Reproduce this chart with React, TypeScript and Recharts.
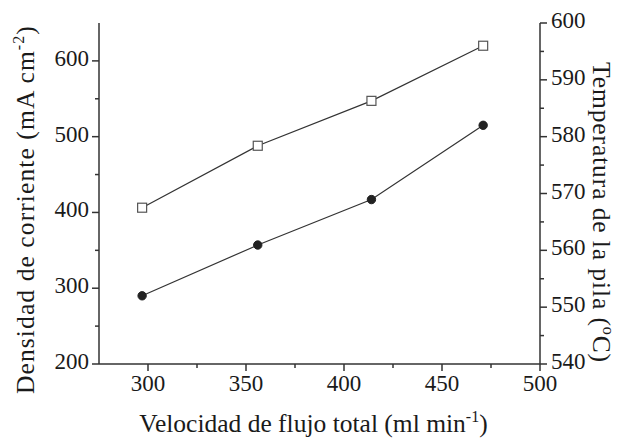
import React from 'react';
import { LineChart, Line, XAxis, YAxis } from 'recharts';

const flowRates = [297, 356, 414, 471];
const currentDensity = [290, 357, 417, 515];
const stackTemperature = [567.5, 578.4, 586.3, 596.0];

const xMajorTicks = [300, 350, 400, 450, 500];
const xMinorTicks = [325, 375, 425, 475];
const leftMajorTicks = [200, 300, 400, 500, 600];
const leftMinorTicks = [250, 350, 450, 550];
const rightMajorTicks = [540, 550, 560, 570, 580, 590, 600];
const rightMinorTicks = [545, 555, 565, 575, 585, 595];

const data = flowRates.map((f, i) => ({
  flow: f,
  density: currentDensity[i],
  temp: stackTemperature[i],
}));

const FONT = "'Liberation Serif', 'DejaVu Serif', serif";
const TEXT = '#1a1a1a';
const AXIS = '#333';
const TICK_FS = 23;
const LABEL_FS = 25.5;
const SUP_FS = 16;
const MAJOR = 7;
const MINOR = 4;

const sorted = (a: number[], b: number[]) => [...a, ...b].sort((p, q) => p - q);

const BottomTick = (props: any) => {
  const { x, y, payload } = props;
  const major = xMajorTicks.includes(payload.value);
  return (
    <g>
      <line x1={x} x2={x} y1={y} y2={y + (major ? MAJOR : MINOR)} stroke={AXIS} strokeWidth={1.5} />
      {major && (
        <text x={x} y={y + 27} textAnchor="middle" fontFamily={FONT} fontSize={TICK_FS} fill={TEXT}>
          {payload.value}
        </text>
      )}
    </g>
  );
};

const TopTick = (props: any) => {
  const { x, y, payload } = props;
  const major = xMajorTicks.includes(payload.value);
  return <line x1={x} x2={x} y1={y} y2={y + (major ? MAJOR : MINOR)} stroke={AXIS} strokeWidth={1.5} />;
};

const LeftTick = (props: any) => {
  const { x, y, payload } = props;
  const major = leftMajorTicks.includes(payload.value);
  return (
    <g>
      <line x1={x - (major ? MAJOR : MINOR)} x2={x} y1={y} y2={y} stroke={AXIS} strokeWidth={1.5} />
      {major && (
        <text x={x - 10} y={y + 5} textAnchor="end" fontFamily={FONT} fontSize={TICK_FS} fill={TEXT}>
          {payload.value}
        </text>
      )}
    </g>
  );
};

const RightTick = (props: any) => {
  const { x, y, payload } = props;
  const major = rightMajorTicks.includes(payload.value);
  return (
    <g>
      <line x1={x} x2={x + (major ? MAJOR : MINOR)} y1={y} y2={y} stroke={AXIS} strokeWidth={1.5} />
      {major && (
        <text x={x + 11} y={y + 5} textAnchor="start" fontFamily={FONT} fontSize={TICK_FS} fill={TEXT}>
          {payload.value}
        </text>
      )}
    </g>
  );
};

const SquareDot = (props: any) => {
  const { cx, cy } = props;
  if (cx == null || cy == null) return null;
  return <rect x={cx - 4.5} y={cy - 4.5} width={9} height={9} fill="#fff" stroke="#555" strokeWidth={1.2} />;
};

const LeftTitle = (props: any) => {
  const vb = props.viewBox || {};
  const cx = vb.x + 34;
  const cy = vb.y + vb.height / 2 + 16;
  return (
    <text x={cx} y={cy} transform={`rotate(-90, ${cx}, ${cy})`} textAnchor="middle" fontFamily={FONT} fontSize={LABEL_FS} letterSpacing={1.1} fill={TEXT}>
      Densidad de corriente (mA cm
      <tspan fontSize={SUP_FS} dy={-10}>-2</tspan>
      <tspan dy={10}>)</tspan>
    </text>
  );
};

const RightTitle = (props: any) => {
  const vb = props.viewBox || {};
  const cx = vb.x + 53;
  const cy = vb.y + vb.height / 2 + 19;
  return (
    <text x={cx} y={cy} transform={`rotate(90, ${cx}, ${cy})`} textAnchor="middle" fontFamily={FONT} fontSize={LABEL_FS} letterSpacing={0.9} fill={TEXT}>
      Temperatura de la pila (
      <tspan fontSize={SUP_FS} dy={-10}>o</tspan>
      <tspan dy={10}>C)</tspan>
    </text>
  );
};

const BottomTitle = (props: any) => {
  const vb = props.viewBox || {};
  const cx = vb.x + vb.width / 2 - 6;
  const cy = vb.y + 68;
  return (
    <text x={cx} y={cy} textAnchor="middle" fontFamily={FONT} fontSize={LABEL_FS} fill={TEXT}>
      Velocidad de flujo total (ml min
      <tspan fontSize={SUP_FS} dy={-10}>-1</tspan>
      <tspan dy={10}>)</tspan>
    </text>
  );
};

export default function App() {
  return (
    <div style={{ position: 'absolute', left: 0, top: 0, width: 622, height: 444, background: '#fff' }}>
      <LineChart width={622} height={444} data={data} margin={{ top: 23, right: 0, bottom: 0, left: 0 }}>
        <XAxis
          xAxisId="bottom"
          dataKey="flow"
          type="number"
          domain={[275, 500]}
          allowDataOverflow
          ticks={sorted(xMajorTicks, xMinorTicks)}
          interval={0}
          height={80}
          tickSize={0}
          tickMargin={0}
          tickLine={false}
          axisLine={{ stroke: AXIS, strokeWidth: 1.5 }}
          tick={<BottomTick />}
          label={<BottomTitle />}
        />
        <XAxis
          xAxisId="top"
          orientation="top"
          type="number"
          domain={[275, 500]}
          allowDataOverflow
          ticks={sorted(xMajorTicks, xMinorTicks)}
          interval={0}
          height={0}
          tickSize={0}
          tickMargin={0}
          tickLine={false}
          axisLine={{ stroke: AXIS, strokeWidth: 1.5 }}
          tick={<TopTick />}
        />
        <YAxis
          yAxisId="left"
          type="number"
          domain={[200, 650]}
          allowDataOverflow
          ticks={sorted(leftMajorTicks, leftMinorTicks)}
          interval={0}
          width={99}
          tickSize={0}
          tickMargin={0}
          tickLine={false}
          axisLine={{ stroke: AXIS, strokeWidth: 1.5 }}
          tick={<LeftTick />}
          label={<LeftTitle />}
        />
        <YAxis
          yAxisId="right"
          orientation="right"
          type="number"
          domain={[540, 600]}
          allowDataOverflow
          ticks={sorted(rightMajorTicks, rightMinorTicks)}
          interval={0}
          width={82}
          tickSize={0}
          tickMargin={0}
          tickLine={false}
          axisLine={{ stroke: AXIS, strokeWidth: 1.5 }}
          tick={<RightTick />}
          label={<RightTitle />}
        />
        <Line
          xAxisId="bottom"
          yAxisId="left"
          dataKey="density"
          stroke="#333"
          strokeWidth={1.2}
          dot={{ r: 4.2, fill: '#222', stroke: '#222', strokeWidth: 1 }}
          isAnimationActive={false}
        />
        <Line
          xAxisId="bottom"
          yAxisId="right"
          dataKey="temp"
          stroke="#333"
          strokeWidth={1.2}
          dot={<SquareDot />}
          isAnimationActive={false}
        />
      </LineChart>
    </div>
  );
}
